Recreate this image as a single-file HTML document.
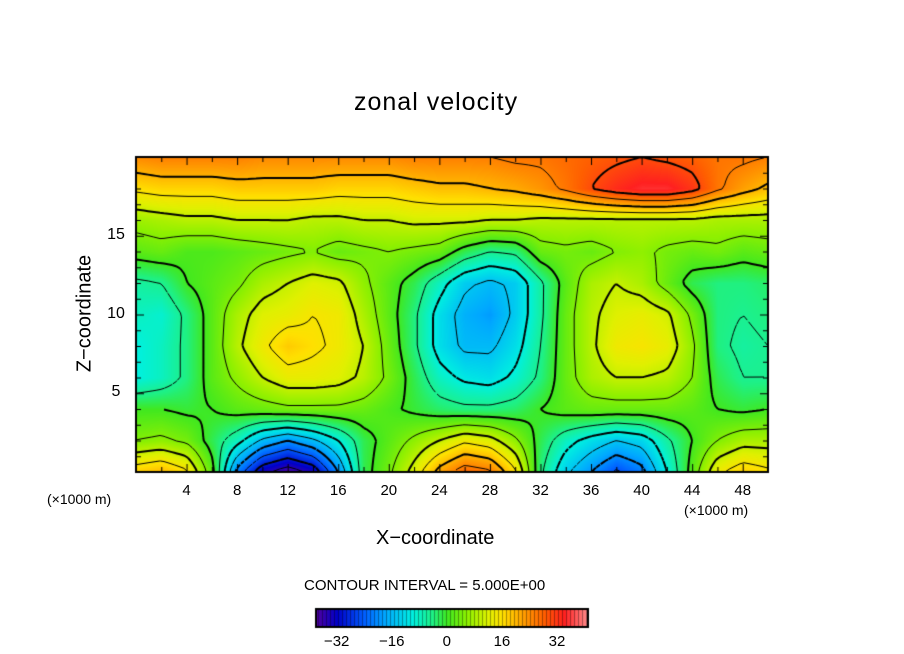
<!DOCTYPE html>
<html><head><meta charset="utf-8"><style>
body{margin:0;background:#fff;width:904px;height:654px;overflow:hidden;font-family:"Liberation Sans",sans-serif}
.t{position:absolute;color:#000;white-space:nowrap}
</style></head><body>
<div class="t" style="left:354px;top:88px;font-size:25px;letter-spacing:1px">zonal velocity</div>
<div class="t" style="left:376px;top:527px;font-size:20px">X−coordinate</div>
<div class="t" style="left:20px;top:302px;font-size:20px;transform:rotate(-90deg);transform-origin:center;width:130px;text-align:center">Z−coordinate</div>
<div class="t" style="left:47px;top:491px;font-size:14px">(×1000 m)</div>
<div class="t" style="left:684px;top:502px;font-size:14px">(×1000 m)</div>
<div class="t" style="left:304px;top:577px;font-size:15px">CONTOUR INTERVAL = 5.000E+00</div>
<canvas id="c" width="904" height="654" style="position:absolute;left:0;top:0"></canvas>
<div id="lab"></div>
<script>
const xs=[0,2,4,6,8,10,12,14,16,18,20,22,24,26,28,30,32,34,36,38,40,42,44,46,48,50];
const zs=[20,18,16,14,12,10,8,6,4,2,0];
const row20=[24,25,25,25,25,24,24,24,24,24,24,25,25,25,25,26,26,27,28,29,30,29,28,26,26,25];
const row18=[16,17,17,17,18,18,18,18,17,17,17,18,19,19,20,21,23,26,30,33,35,35,32,26,22,19];
const row16=[7,8,9,9,10,10,10,9,9,10,10,11,11,11,10,10,9,9,9,9,9,9,9,8,8,8];
const row14=[2,3,1,1,2,3,4,5,3,4,5,4,3,-2,-5,-4,3,4,3,5,6,4,3,4,2,3];
const row12=[-6,-5,0,2,4,8,10,12,11,6,2,-2,-8,-14,-16,-14,-6,2,8,10,8,3,-2,-4,-4,-3];
const row10=[-8,-9,-4,2,8,12,13,15,14,8,2,-4,-12,-17,-19,-14,-6,3,9,12,13,11,4,-4,-5,-4];
const row8=[-10,-8,-4,2,9,14,18,16,14,10,3,-4,-12,-16,-16,-12,-5,3,9,14,15,13,6,-4,-6,-5];
const row6=[-10,-8,-4,2,6,10,13,13,12,9,4,-2,-8,-11,-12,-9,-4,3,8,10,10,9,5,-2,-5,-5];
const row4=[0,0,-1,0,2,3,4,4,4,3,1,-1,-3,-4,-4,-3,0,2,3,3,3,3,2,0,-1,0];
const row2=[5,6,4,-2,-8,-16,-20,-16,-10,-2,2,6,10,14,12,6,-2,-8,-12,-15,-13,-6,0,5,8,8];
const row0=[18,20,16,2,-22,-34,-38,-34,-20,-2,4,12,22,28,26,16,-4,-14,-20,-26,-22,-10,2,14,18,16];
const grid=[row20,row18,row16,row14,row12,row10,row8,row6,row4,row2,row0];
const xTicks=[4,8,12,16,20,24,28,32,36,40,44,48];
const zTicks=[5,10,15];
const cbTicks=[-32,-16,0,16,32];

const L=136,R=768,T=157,B=472,XMAX=50,ZMAX=20;
const sx=x=>L+(x/XMAX)*(R-L), sz=z=>B-(z/ZMAX)*(B-T);
const cx=cv=>316+(cv+38)/79*272;
function val(x,z){
 let fx=x/2; let i=Math.min(Math.floor(fx),xs.length-2); let tx=fx-i;
 let fr=(20-z)/2; let j=Math.min(Math.floor(fr),zs.length-2); let tz=fr-j;
 const a=grid[j][i],b=grid[j][i+1],c=grid[j+1][i],d=grid[j+1][i+1];
 return (a*(1-tx)+b*tx)*(1-tz)+(c*(1-tx)+d*tx)*tz;
}
const stops=[[-38,[80,0,160]],[-32,[0,0,200]],[-24,[0,96,255]],[-18,[0,168,255]],[-10,[0,240,224]],[-4,[32,240,128]],[0,[64,232,32]],[6,[144,240,0]],[12,[224,240,0]],[16,[255,224,0]],[22,[255,160,0]],[28,[255,96,0]],[34,[255,32,32]],[41,[255,144,144]]];
function col(v){
 if(v<=stops[0][0])return stops[0][1];
 for(let k=1;k<stops.length;k++){if(v<=stops[k][0]){const a=stops[k-1],b=stops[k];const t=(v-a[0])/(b[0]-a[0]);return a[1].map((q,n)=>q+(b[1][n]-q)*t);}}
 return stops[stops.length-1][1];
}
const cv=document.getElementById('c');const g=cv.getContext('2d');
const W=R-L,H=B-T;const img=g.createImageData(W,H);
for(let py=0;py<H;py++)for(let px=0;px<W;px++){
 const v=val(px/W*XMAX,ZMAX-py/H*ZMAX);const c=col(v);const o=(py*W+px)*4;
 img.data[o]=c[0];img.data[o+1]=c[1];img.data[o+2]=c[2];img.data[o+3]=255;}
g.putImageData(img,L,T);
const N=4,nx=Math.ceil(W/N),nz=Math.ceil(H/N);
const F=[];for(let j=0;j<=nz;j++){F[j]=[];for(let i=0;i<=nx;i++){F[j][i]=val(Math.min(i*N,W)/W*XMAX,ZMAX-Math.min(j*N,H)/H*ZMAX);}}
g.save();g.beginPath();g.rect(L,T,W,H);g.clip();
for(let lev=-35;lev<=35;lev+=5){
 g.beginPath();
 for(let j=0;j<nz;j++)for(let i=0;i<nx;i++){
  const c=[[i,j,F[j][i]],[i+1,j,F[j][i+1]],[i+1,j+1,F[j+1][i+1]],[i,j+1,F[j+1][i]]];
  const p=[];
  for(let k=0;k<4;k++){const a=c[k],b=c[(k+1)%4];if((a[2]-lev)*(b[2]-lev)<0){const t=(lev-a[2])/(b[2]-a[2]);p.push([L+(a[0]+(b[0]-a[0])*t)*N,T+(a[1]+(b[1]-a[1])*t)*N]);}}
  if(p.length>=2){g.moveTo(p[0][0],p[0][1]);g.lineTo(p[1][0],p[1][1]);}
  if(p.length==4){g.moveTo(p[2][0],p[2][1]);g.lineTo(p[3][0],p[3][1]);}
 }
 g.lineWidth=(lev%10==0)?2:1;g.setLineDash(lev<0?[4,3]:[]);g.strokeStyle='#000';g.stroke();
}
g.restore();g.setLineDash([]);
g.lineWidth=2;g.strokeRect(L,T,W,H);
g.lineWidth=1;g.beginPath();
for(let x=2;x<XMAX;x+=2){const len=x%4==0?8:5;g.moveTo(sx(x)+.5,B);g.lineTo(sx(x)+.5,B-len);g.moveTo(sx(x)+.5,T);g.lineTo(sx(x)+.5,T+len);}
for(let z=1;z<ZMAX;z++){const len=z%5==0?8:5;g.moveTo(L,sz(z)+.5);g.lineTo(L+len,sz(z)+.5);g.moveTo(R,sz(z)+.5);g.lineTo(R-len,sz(z)+.5);}
g.stroke();
for(let p=316;p<588;p++){const v=(p-316)/272*79-38;const c=col(v);g.fillStyle=`rgb(${c[0]|0},${c[1]|0},${c[2]|0})`;g.fillRect(p,609,1,18);}
g.strokeStyle='rgba(0,0,0,0.35)';g.beginPath();for(let p=318;p<588;p+=4){g.moveTo(p+.5,609);g.lineTo(p+.5,627);}g.stroke();
g.strokeStyle='#000';g.lineWidth=2;g.strokeRect(316,609,272,18);
const lab=document.getElementById('lab');
function addLabel(txt,x,y,size,name){const d=document.createElement('div');d.className='t';d.textContent=txt;d.style.left=x+'px';d.style.top=y+'px';d.style.fontSize=size+'px';d.style.transform='translateX(-50%)';


lab.appendChild(d);}
xTicks.forEach(x=>addLabel(String(x),sx(x),482,15,'x-tick-label'));
zTicks.forEach(z=>addLabel(String(z),L-20,sz(z)-10,16,'z-tick-label'));
cbTicks.forEach(v=>addLabel(v<0?'−'+(-v):String(v),cx(v),633,15,'colorbar-tick-label'));
</script>
</body></html>
